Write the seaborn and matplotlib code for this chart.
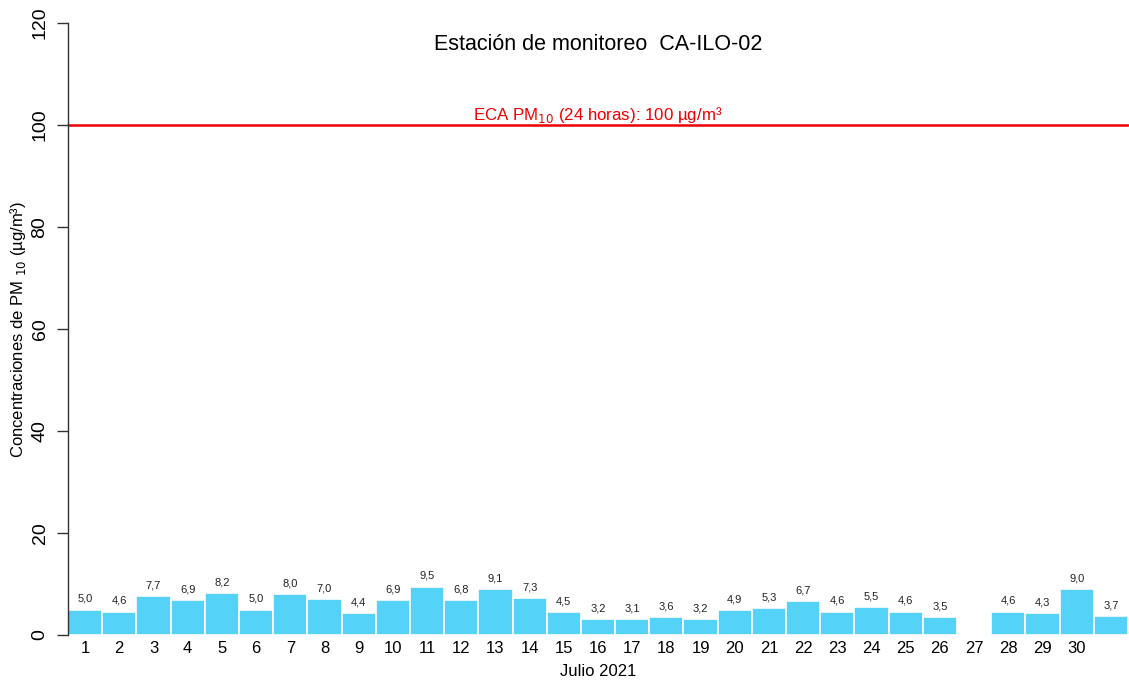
import numpy as np
import pandas as pd
import matplotlib
matplotlib.use("Agg")
import matplotlib.pyplot as plt
import seaborn as sns

days = [str(d) for d in range(1, 32)]
values = [5.0, 4.6, 7.7, 6.9, 8.2, 5.0, 8.0, 7.0, 4.4, 6.9, 9.5, 6.8, 9.1, 7.3, 4.5,
          3.2, 3.1, 3.6, 3.2, 4.9, 5.3, 6.7, 4.6, 5.5, 4.6, 3.5, np.nan, 4.6, 4.3, 9.0, 3.7]
tick_labels = [str(d) for d in range(1, 31)] + [""]
eca_limit = 100
yticks = [0, 20, 40, 60, 80, 100, 120]

sns.set_style("white")
plt.rcParams['font.family'] = ['Liberation Sans', 'DejaVu Sans']
plt.rcParams['text.color'] = 'black'
plt.rcParams['axes.labelcolor'] = 'black'
plt.rcParams['xtick.color'] = 'black'
plt.rcParams['ytick.color'] = 'black'

df = pd.DataFrame({"dia": days, "valor": values})
df_plot = df.dropna()

fig = plt.figure(figsize=(11.29, 6.82), dpi=100)
ax = fig.add_axes([68/1129, 47/682, 1060/1129, 612/682])

sns.barplot(data=df_plot, x="dia", y="valor", order=days, color="#54D2F7",
            saturation=1, width=1.0, edgecolor="white", linewidth=1.2, ax=ax, errorbar=None)

for i, v in enumerate(values):
    if not np.isnan(v):
        ax.annotate(f"{v:.1f}".replace(".", ","), (i, v), xytext=(0, 4),
                    textcoords="offset points", ha="center", va="bottom",
                    fontsize=8, color="#222222")

ax.axhline(eca_limit, color="#EE0000", linewidth=1.8, clip_on=False)
ax.text(15.0, eca_limit + 1.0, r"ECA PM$_{10}$ (24 horas): 100 µg/m³", color="#EE0000",
        ha="center", va="baseline", fontsize=12.2)

ax.set_xlim(-0.5, 30.5)
ax.set_ylim(0, 120)
ax.set_yticks(yticks)
ax.set_yticklabels([str(t) for t in yticks], rotation=90, va="center", fontsize=14)
ax.set_xticks(range(31))
ax.set_xticklabels(tick_labels, fontsize=12)
ax.tick_params(axis="y", length=8, width=1, direction="out", left=True, pad=6, color="#333333")
ax.tick_params(axis="x", length=0, pad=4)

for s in ["top", "right", "bottom"]:
    ax.spines[s].set_visible(False)
ax.spines["left"].set_color("#333333")
ax.spines["left"].set_linewidth(1)

ax.set_xlabel("Julio 2021", fontsize=12, labelpad=6)
ax.set_ylabel(r"Concentraciones de PM $_{10}$ (µg/m³)", fontsize=12)
ax.yaxis.set_label_coords(-40/1060, 0.5)

fig.text(598/1129, 1 - 45/682, "Estación de monitoreo  CA-ILO-02", ha="center", va="center",
         fontsize=15.5)

fig.savefig("out.png", dpi=100, facecolor="white")
